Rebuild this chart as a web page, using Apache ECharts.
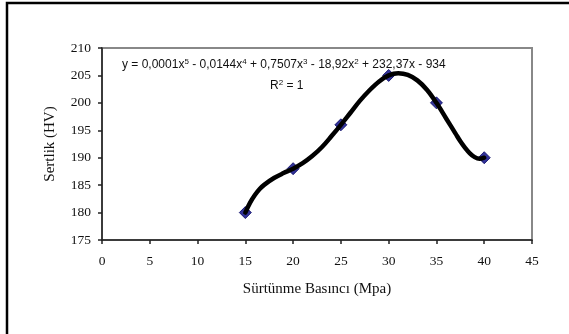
<!DOCTYPE html>
<html><head><meta charset="utf-8">
<script src="https://cdn.jsdelivr.net/npm/echarts@6/dist/echarts.min.js"></script>
<style>html,body{margin:0;padding:0;background:#fff}#c{width:569px;height:334px}</style>
</head><body><div id="c"></div>
<script>
// Measured points
const pressure = [15, 20, 25, 30, 35, 40];
const hardness = [180, 188, 196, 205, 200, 190];
// Trendline (5th order polynomial)
const trendX = [15, 15.5, 16, 16.5, 17, 18, 19, 20, 21, 22, 23, 24, 25, 26, 27, 28, 29, 30, 31, 32, 33, 34, 35, 36, 37, 37.5, 38, 38.5, 39, 39.5, 40];
const trendY = [180, 181.8, 183.2, 184.3, 185.1, 186.3, 187.2, 188, 189.0, 190.3, 191.9, 193.9, 196, 198.2, 200.4, 202.3, 203.9, 205, 205.4, 205.1, 204.1, 202.4, 200, 197.2, 194.4, 193.0, 191.8, 190.8, 190.1, 189.8, 190];
const xTicks = [0, 45, 5];
const yTicks = [175, 210, 5];
const equation = 'y = 0,0001x{s|5} - 0,0144x{s|4} + 0,7507x{s|3} - 18,92x{s|2} + 232,37x - 934';
const rsq = 'R{s|2} = 1';

const chart = echarts.init(document.getElementById('c'), null, {renderer: 'canvas'});
const serif = '"Liberation Serif","Times New Roman",serif';
const sans = '"Liberation Sans",Arial,sans-serif';
chart.setOption({
  animation: false,
  grid: {left: 102, top: 48, right: 37, bottom: 94, show: true, borderColor: '#888', borderWidth: 2, backgroundColor: '#fff'},
  xAxis: {
    type: 'value', min: xTicks[0], max: xTicks[1], interval: xTicks[2],
    name: 'Sürtünme Basıncı (Mpa)', nameLocation: 'middle', nameGap: 42,
    nameTextStyle: {fontFamily: serif, fontSize: 15, color: '#111'},
    axisLine: {show: true, lineStyle: {color: '#222', width: 1.5}},
    axisTick: {show: true, inside: false, length: 4, lineStyle: {color: '#222', width: 1.5}},
    axisLabel: {fontFamily: serif, fontSize: 13.5, color: '#111', margin: 14},
    splitLine: {show: false}
  },
  yAxis: {
    type: 'value', min: yTicks[0], max: yTicks[1], interval: yTicks[2],
    name: 'Sertlik (HV)', nameLocation: 'middle', nameGap: 44, nameRotate: 90,
    nameTextStyle: {fontFamily: serif, fontSize: 15, color: '#111'},
    axisLine: {show: true, lineStyle: {color: '#222', width: 1.5}},
    axisTick: {show: true, inside: false, length: 4, lineStyle: {color: '#222', width: 1.5}},
    axisLabel: {fontFamily: serif, fontSize: 13.5, color: '#111', margin: 11},
    splitLine: {show: false}
  },
  series: [
    {
      type: 'scatter', data: pressure.map((x, i) => [x, hardness[i]]),
      symbol: 'diamond', symbolSize: 12,
      itemStyle: {color: '#000080', borderColor: '#000060', borderWidth: 1}, z: 2
    },
    {
      type: 'line', data: trendX.map((x, i) => [x, trendY[i]]),
      smooth: 0.35, showSymbol: false, symbol: 'none',
      lineStyle: {color: '#000', width: 4.5, cap: 'round', join: 'round'}, z: 3
    }
  ],
  graphic: [
    {type: 'polyline', z: 100, silent: true,
      shape: {points: [[7, 400], [7, 3], [700, 3]]},
      style: {fill: null, stroke: '#000', lineWidth: 2.5}},
    {type: 'text', left: 122, top: 58, z: 50,
      style: {text: equation, font: '12px ' + sans, fill: '#111',
        rich: {s: {fontSize: 8, verticalAlign: 'top', padding: [0, 0, 6, 0], fontFamily: sans}}}},
    {type: 'text', left: 270, top: 79, z: 50,
      style: {text: rsq, font: '12px ' + sans, fill: '#111',
        rich: {s: {fontSize: 8, verticalAlign: 'top', padding: [0, 0, 6, 0], fontFamily: sans}}}}
  ]
});
</script></body></html>
